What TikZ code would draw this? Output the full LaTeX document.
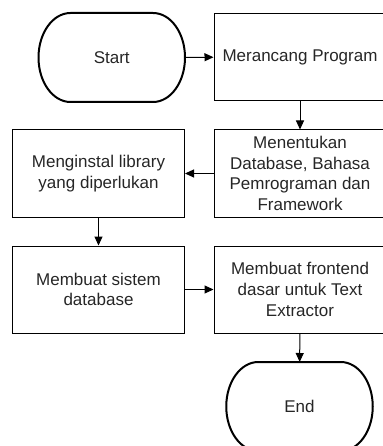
\documentclass[tikz,border=0pt]{standalone}
\usepackage{fontspec}
\setmainfont{Liberation Sans}
\usetikzlibrary{arrows.meta}
% outline of a start/end node: straight top and bottom, elliptic ends
\newcommand{\bingkai}[1]{%
  \draw[line width=2pt] ([xshift=32pt]#1.north west) -- ([xshift=-32pt]#1.north east)
    arc[start angle=90, end angle=-90, x radius=32pt, y radius=44.5pt]
    -- ([xshift=32pt]#1.south west)
    arc[start angle=270, end angle=90, x radius=32pt, y radius=44.5pt] -- cycle;}
\begin{document}
\begin{tikzpicture}[x=1pt,y=-1pt,
  font=\fontsize{17}{20.7}\selectfont,
  kotak/.style={draw=black, line width=1pt, minimum width=172pt, minimum height=87pt, align=center, text=black!85},
  terminal/.style={minimum width=146.5pt, minimum height=89pt, inner sep=0pt, outer sep=0pt, text=black!85},
  panah/.style={-{Triangle[length=9pt,width=8pt]}, line width=1pt}]
\useasboundingbox (0,0) rectangle (382,446);
\node[terminal] (start) at (111.75,57.5) {Start};
\node[kotak] (merancang) at (300,57) {Merancang Program};
\node[kotak] (menentukan) at (300,173.5) {Menentukan\\Database, Bahasa\\Pemrograman dan\\Framework};
\node[kotak] (menginstal) at (98.5,173.5) {Menginstal library\\yang diperlukan};
\node[kotak] (sistem) at (98.5,289.5) {Membuat sistem\\database};
\node[kotak] (frontend) at (300,289.5) {Membuat frontend\\dasar untuk Text\\Extractor};
\node[terminal] (end) at (299.5,406.5) {End};
\bingkai{start}
\bingkai{end}
\draw[panah] (start) -- (merancang);
\draw[panah] (merancang) -- (menentukan);
\draw[panah] (menentukan) -- (menginstal);
\draw[panah] (menginstal) -- (sistem);
\draw[panah] (sistem) -- (frontend);
\draw[panah] (frontend) -- (end);
\end{tikzpicture}
\end{document}
